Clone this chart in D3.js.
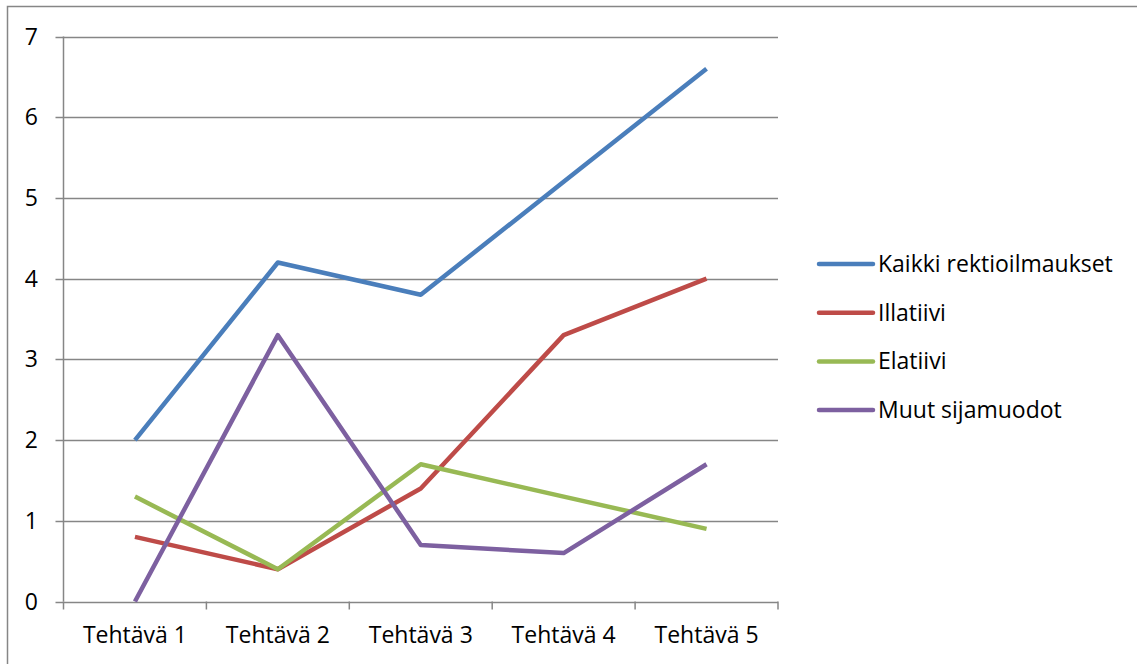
<!DOCTYPE html>
<html>
<head>
<meta charset="utf-8">
<script src="https://cdn.jsdelivr.net/npm/d3@7"></script>
<style>
  body { margin: 0; background: #fff; }
  text { font-family: "Open Sans", sans-serif; fill: #000; }
</style>
</head>
<body>
<div id="chart"></div>
<script>
const categories = ["Tehtävä 1", "Tehtävä 2", "Tehtävä 3", "Tehtävä 4", "Tehtävä 5"];
const seriesNames = ["Kaikki rektioilmaukset", "Illatiivi", "Elatiivi", "Muut sijamuodot"];
const kaikki = [2.0, 4.2, 3.8, 5.2, 6.6];
const illatiivi = [0.8, 0.4, 1.4, 3.3, 4.0];
const elatiivi = [1.3, 0.4, 1.7, 1.3, 0.9];
const muut = [0.0, 3.3, 0.7, 0.6, 1.7];
const yTicks = [0, 1, 2, 3, 4, 5, 6, 7];
const colors = ["#4a7ebb", "#be4b48", "#98b954", "#7d60a0"];

const series = [kaikki, illatiivi, elatiivi, muut].map((vals, i) => ({
    name: seriesNames[i],
    color: colors[i],
    values: vals
}));

const W = 1137, H = 664;
const fontSize = "23px";
const svg = d3.select("#chart").append("svg")
    .attr("width", W)
    .attr("height", H);

// outer chart border (only top and left visible)
svg.append("rect")
    .attr("x", 7.5).attr("y", 6.5)
    .attr("width", W + 20).attr("height", H + 20)
    .attr("fill", "none")
    .attr("stroke", "#868686")
    .attr("stroke-width", 1.5);

const plotLeft = 63.5, plotRight = 778, plotTop = 36.5, plotBottom = 601.5;

const x = d3.scaleBand()
    .domain(categories)
    .range([plotLeft, plotRight]);

const y = d3.scaleLinear()
    .domain([0, 7])
    .range([plotBottom, plotTop]);

// gridlines
svg.append("g")
   .selectAll("line")
   .data(yTicks)
   .join("line")
   .attr("x1", plotLeft - 8)
   .attr("x2", plotRight)
   .attr("y1", d => Math.round(y(d)) + 0.5)
   .attr("y2", d => Math.round(y(d)) + 0.5)
   .attr("stroke", "#868686")
   .attr("stroke-width", 1.5);

// y axis line
svg.append("line")
   .attr("x1", plotLeft).attr("x2", plotLeft)
   .attr("y1", plotTop).attr("y2", plotBottom)
   .attr("stroke", "#868686")
   .attr("stroke-width", 1.5);

// y tick labels
svg.append("g")
   .selectAll("text")
   .data(yTicks)
   .join("text")
   .attr("x", 38)
   .attr("y", d => y(d))
   .attr("dy", "0.35em")
   .attr("text-anchor", "end")
   .style("font-size", fontSize)
   .text(d => d);

// x ticks at category boundaries
const boundaries = categories.map(c => x(c)).concat([plotRight]);
svg.append("g")
   .selectAll("line")
   .data(boundaries)
   .join("line")
   .attr("x1", d => d).attr("x2", d => d)
   .attr("y1", plotBottom).attr("y2", plotBottom + 8)
   .attr("stroke", "#868686")
   .attr("stroke-width", 1.5);

// x labels
svg.append("g")
   .selectAll("text")
   .data(categories)
   .join("text")
   .attr("x", d => x(d) + x.bandwidth() / 2)
   .attr("y", 643)
   .attr("text-anchor", "middle")
   .style("font-size", fontSize)
   .text(d => d);

// series lines
const line = d3.line()
    .x((d, i) => x(categories[i]) + x.bandwidth() / 2)
    .y(d => y(d));

svg.append("g")
   .selectAll("path")
   .data(series)
   .join("path")
   .attr("fill", "none")
   .attr("stroke", d => d.color)
   .attr("stroke-width", 4.5)
   .attr("stroke-linejoin", "round")
   .attr("d", d => line(d.values));

// legend
const legend = svg.append("g")
    .selectAll("g")
    .data(series)
    .join("g")
    .attr("transform", (d, i) => `translate(819,${264 + i * 48.7})`);

legend.append("line")
   .attr("x1", 0).attr("x2", 54)
   .attr("stroke", d => d.color)
   .attr("stroke-width", 4.5)
   .attr("stroke-linecap", "round");

legend.append("text")
   .attr("x", 59)
   .attr("dy", "0.35em")
   .style("font-size", fontSize)
   .text(d => d.name);
</script>
</body>
</html>
